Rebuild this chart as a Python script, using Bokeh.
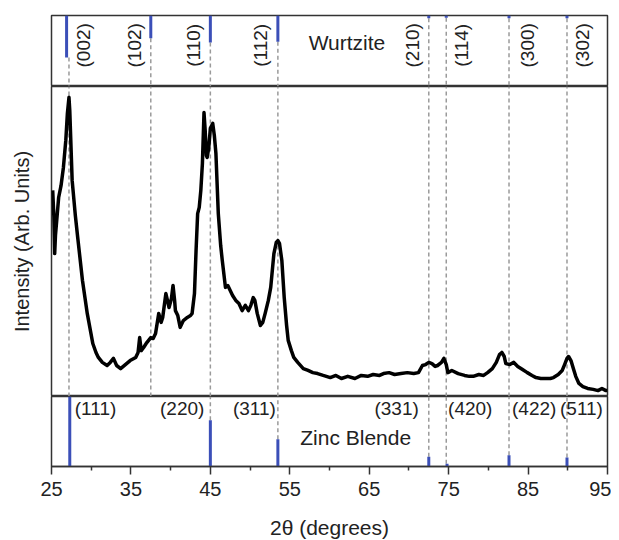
from bokeh.plotting import figure
from bokeh.models import Range1d, FixedTicker, Label, ColumnDataSource
from bokeh.layouts import column
from bokeh.embed import file_html
from bokeh.resources import INLINE

# ---------------- data ----------------
two_theta = [25.15, 25.3, 25.4, 25.5, 25.9, 26.2, 26.5, 26.8, 27.0, 27.2, 27.3, 27.6, 28.0, 28.3, 28.9,
             29.5, 30.2, 30.6, 30.9, 31.4, 32.0, 32.4, 32.8, 33.2, 33.7, 34.3, 34.9, 35.6, 35.9, 36.1,
             36.3, 36.6, 37.0, 37.5, 37.8, 38.1, 38.5, 38.8, 39.0, 39.4, 39.6, 39.8, 40.1, 40.3, 40.5,
             40.6, 40.9, 41.2, 41.6, 42.1, 42.5, 42.7, 43.0, 43.2, 43.4, 43.6, 43.8, 44.0, 44.2, 44.35,
             44.5, 44.6, 44.8, 45.0, 45.3, 45.5, 45.7, 46.0, 46.3, 46.5, 46.9, 47.2, 47.5, 47.8, 48.2,
             48.6, 49.0, 49.4, 49.8, 50.1, 50.4, 50.6, 50.9, 51.3, 51.6, 51.9, 52.3, 52.6, 53.0, 53.3,
             53.5, 53.7, 54.0, 54.3, 54.6, 54.8, 55.2, 55.5, 56.0, 56.7, 57.3, 57.9, 58.5, 59.2, 60.1,
             60.8, 61.5, 62.3, 63.2, 64.0, 64.8, 65.5, 66.3, 66.8, 67.5, 68.2, 69.0, 69.8, 70.6, 71.2,
             71.7, 72.1, 72.5, 72.9, 73.3, 73.6, 74.1, 74.4, 74.7, 74.9, 75.4, 76.2, 77.0, 77.6, 78.1,
             78.8, 79.4, 79.9, 80.5, 81.0, 81.4, 81.7, 82.0, 82.2, 82.7, 83.2, 83.7, 84.3, 84.9, 85.5,
             86.0, 86.6, 87.2, 87.8, 88.2, 88.8, 89.3, 89.6, 89.9, 90.1, 90.4, 90.7, 91.0, 91.4, 91.9,
             92.5, 93.2, 93.8, 94.3, 94.8, 95.0]
intensity = [66.5, 58.0, 46.1, 52.0, 64.2, 68.0, 73.9, 82.6, 91.3, 96.5, 92.3, 69.7, 58.4, 51.3, 37.4,
             26.8, 17.1, 14.2, 12.6, 11.0, 10.0, 11.0, 12.3, 10.0, 9.0, 10.3, 11.6, 12.6, 14.2, 19.0,
             14.8, 15.8, 17.4, 19.0, 18.7, 20.3, 26.8, 23.9, 25.5, 33.2, 31.0, 28.7, 31.6, 35.8, 31.0,
             27.7, 26.1, 22.3, 24.5, 25.5, 26.1, 26.8, 33.2, 47.1, 59.0, 61.0, 66.5, 75.2, 91.6, 85.8,
             77.7, 77.1, 80.3, 86.5, 88.1, 84.2, 78.4, 59.0, 48.7, 43.9, 35.2, 35.8, 34.2, 32.6, 31.0,
             30.0, 27.7, 29.4, 27.7, 29.4, 31.9, 31.0, 26.8, 22.9, 23.9, 26.8, 31.0, 35.2, 46.1, 49.7,
             50.3, 49.4, 43.9, 31.9, 22.9, 18.1, 14.8, 12.6, 11.0, 9.0, 8.4, 7.7, 7.4, 6.8, 6.1,
             6.8, 5.8, 6.5, 5.8, 6.8, 6.5, 7.1, 6.8, 7.4, 7.7, 7.1, 7.4, 7.7, 7.4, 7.7,
             10.0, 10.3, 11.0, 10.6, 9.7, 10.0, 11.0, 12.3, 10.3, 7.7, 8.4, 7.4, 6.8, 6.5, 6.5,
             7.1, 6.8, 7.7, 9.0, 11.0, 13.5, 14.2, 12.9, 10.6, 10.3, 11.0, 9.7, 8.7, 7.7, 6.8,
             6.1, 5.8, 5.8, 5.8, 6.1, 7.1, 8.4, 10.3, 12.3, 12.9, 11.6, 9.0, 6.5, 4.2, 3.2,
             2.6, 2.3, 1.9, 2.6, 1.9, 1.9]

ref_lines = [27.2, 37.5, 45.0, 53.5, 72.5, 74.7, 82.6, 89.9]

wz_labels = ["(002)", "(102)", "(110)", "(112)", "(210)", "(114)", "(300)", "(302)"]
wz_pos = [26.9, 37.5, 45.0, 53.5, 72.5, 74.7, 82.6, 89.9]
wz_int = [59, 32, 38, 37, 4, 3, 4, 4]

zb_labels = ["(111)", "(220)", "(311)", "(331)", "(420)", "(422)", "(511)"]
zb_pos = [27.3, 45.0, 53.5, 72.5, 74.8, 82.6, 89.9]
zb_int = [100, 66, 39, 14, 4, 16, 13]

x_ticks = [25, 35, 45, 55, 65, 75, 85, 95]
x_minor = [30, 40, 50, 60, 70, 80, 90]

# ---------------- style ----------------
FONT = "Liberation Sans"
TXT = "#222222"
BLUE = "#3b4fb8"
DASH = "#9a9a9a"
FRAME = "#333333"
XR = Range1d(25, 95)

def base(frame_h, top=0, bottom=0):
    p = figure(output_backend="svg", toolbar_location=None, x_range=XR,
               frame_width=556, frame_height=frame_h,
               min_border_left=51, min_border_right=4,
               min_border_top=top, min_border_bottom=bottom,
               background_fill_color="white", border_fill_color="white")
    p.xgrid.visible = False
    p.ygrid.visible = False
    p.outline_line_color = FRAME
    p.outline_line_width = 1.5
    return p

# ---- top panel (Wurtzite) ----
pt = base(71, top=15)
pt.y_range = Range1d(100, 0)
for ax in pt.axis:
    ax.visible = False
pt.segment(x0=ref_lines, y0=wz_int, x1=ref_lines, y1=[100] * len(ref_lines),
           line_color=DASH, line_width=1.5, line_dash="4 3")
pt.segment(x0=wz_pos, y0=[0] * len(wz_pos), x1=wz_pos, y1=wz_int,
           line_color=BLUE, line_width=3)
wz_off = [17, -16, -17, -17, -16, 15, 18, 16]
pt.text(x=wz_pos, y=[42] * len(wz_pos), text=wz_labels, angle=1.5708,
        x_offset=wz_off, text_align="center", text_baseline="middle",
        text_font={"value": FONT}, text_font_size="19px", text_color=TXT)
pt.add_layout(Label(x=62.2, y=38, text="Wurtzite", text_align="center",
                    text_baseline="middle", text_font=FONT,
                    text_font_size="21px", text_color=TXT))

# ---- main panel ----
pm = base(310)
pm.y_range = Range1d(0, 100)
pm.xaxis.visible = False
pm.yaxis.ticker = FixedTicker(ticks=[])
pm.yaxis.axis_line_color = None
pm.yaxis.major_tick_line_color = None
pm.yaxis.minor_tick_line_color = None
pm.yaxis.major_label_text_font_size = "0px"
pm.yaxis.axis_label = "Intensity (Arb. Units)"
pm.yaxis.axis_label_text_font = FONT
pm.yaxis.axis_label_text_font_style = "normal"
pm.yaxis.axis_label_text_font_size = "20px"
pm.yaxis.axis_label_text_color = TXT
pm.yaxis.axis_label_standoff = 19
pm.segment(x0=ref_lines, y0=[0] * len(ref_lines), x1=ref_lines, y1=[100] * len(ref_lines),
           line_color=DASH, line_width=1.5, line_dash="4 3")
pm.line(two_theta, intensity, line_color="black", line_width=3.5, line_join="round")

# ---- bottom panel (Zinc Blende) ----
pb = base(70, bottom=72)
pb.y_range = Range1d(0, 100)
pb.yaxis.visible = False
zb_ref = [x for x in ref_lines if x != 37.5]
pb.segment(x0=zb_ref, y0=zb_int, x1=zb_ref, y1=[100] * len(zb_ref),
           line_color=DASH, line_width=1.5, line_dash="4 3")
pb.segment(x0=zb_pos, y0=[0] * len(zb_pos), x1=zb_pos, y1=zb_int,
           line_color=BLUE, line_width=3)
zb_align = ["left", "right", "right", "right", "left", "left", "left"]
zb_off = [5, -6, -2, -10, 1, 3, -7]
src = ColumnDataSource(dict(x=zb_pos, y=[83] * len(zb_pos), t=zb_labels,
                            a=zb_align, o=zb_off))
pb.text(x="x", y="y", text="t", text_align="a", x_offset="o", source=src,
        text_baseline="middle", text_font={"value": FONT},
        text_font_size="19px", text_color=TXT)
pb.add_layout(Label(x=63.3, y=42, text="Zinc Blende", text_align="center",
                    text_baseline="middle", text_font=FONT,
                    text_font_size="21px", text_color=TXT))
xa = pb.xaxis[0]
xa.ticker = FixedTicker(ticks=x_ticks, minor_ticks=x_minor)
xa.major_tick_out = 8
xa.major_tick_in = 0
xa.minor_tick_out = 4
xa.minor_tick_in = 0
xa.axis_line_color = FRAME
xa.axis_line_width = 1.5
xa.major_tick_line_color = FRAME
xa.major_tick_line_width = 1.5
xa.minor_tick_line_color = FRAME
xa.minor_tick_line_width = 1.5
xa.major_label_standoff = 7
xa.major_label_text_font = FONT
xa.major_label_text_font_size = "20px"
xa.major_label_text_color = TXT
xa.axis_label = "2θ (degrees)"
xa.axis_label_text_font = FONT
xa.axis_label_text_font_style = "normal"
xa.axis_label_text_font_size = "21px"
xa.axis_label_text_color = TXT
xa.axis_label_standoff = 17

layout = column(pt, pm, pb, spacing=0)
open("out.html", "w").write(file_html(layout, INLINE))
